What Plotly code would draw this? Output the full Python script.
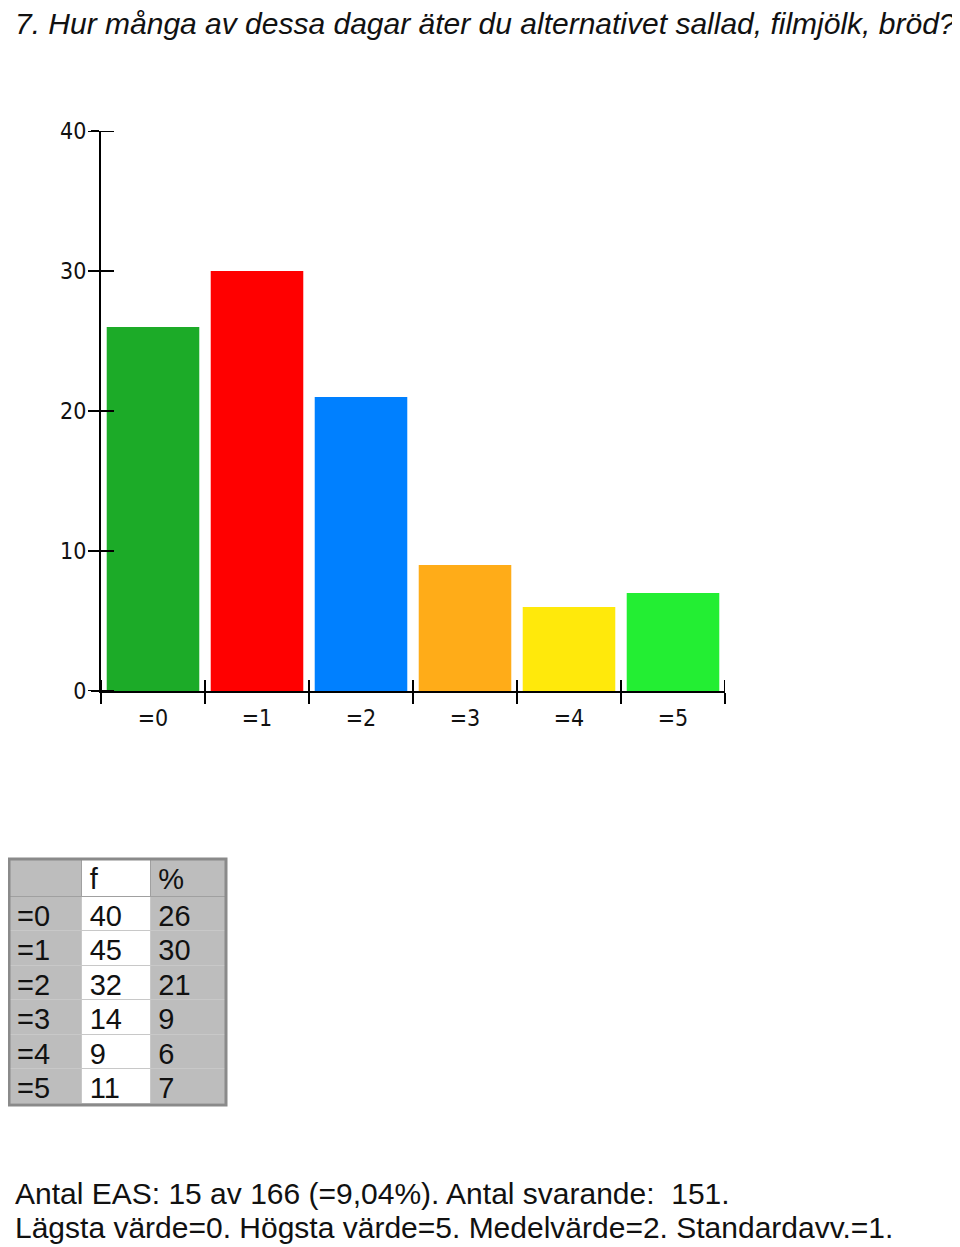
import plotly.graph_objects as go

# ---- data ----
categories = ["=0", "=1", "=2", "=3", "=4", "=5"]
freq = [40, 45, 32, 14, 9, 11]
percent = [26, 30, 21, 9, 6, 7]
bar_colors = ["#1cab28", "#ff0000", "#0080ff", "#ffac18", "#ffe90b", "#23ee33"]
y_ticks = [0, 10, 20, 30, 40]
title_text = "7. Hur många av dessa dagar äter du alternativet sallad, filmjölk, bröd?"
footer_lines = [
    "Antal EAS: 15 av 166 (=9,04%). Antal svarande:  151.",
    "Lägsta värde=0. Högsta värde=5. Medelvärde=2. Standardavv.=1.",
]
table_header = ["", "f", "%"]

OFF = 8  # the html page's default body margin
W, H = 960 - OFF, 1247 - OFF


def px(x):
    return max(0.0, (x - OFF) / W)


def py(y):
    return min(1.0, 1 - (y - OFF) / H)


fig = go.Figure()
fig.add_trace(go.Bar(
    x=categories, y=percent, marker=dict(color=bar_colors, line=dict(width=0)),
    width=0.89, xaxis="x", yaxis="y", showlegend=False, hoverinfo="skip",
))

tick_font = dict(family="Liberation Sans Narrow, DejaVu Sans Condensed, sans-serif", size=23, color="#111")
txt_font = dict(family="Liberation Sans, Arial", size=29, color="#111")

# table
grey = "#bdbdbd"
tx0, tx1 = 9, 226
fig.add_trace(go.Table(
    domain=dict(x=[px(tx0), px(tx1)], y=[py(1105), py(859)]),
    columnwidth=[73, 69, 76],
    header=dict(
        values=table_header,
        fill_color=[grey, "white", grey],
        line=dict(color="#a0a0a0", width=1),
        align="left",
        font=txt_font,
        height=37,
    ),
    cells=dict(
        values=[categories, [str(v) for v in freq], [str(v) for v in percent]],
        fill_color=[grey, "white", grey],
        line=dict(color="#c8c8c8", width=1),
        align="left",
        font=txt_font,
        height=34.5,
    ),
))

shapes = []
for t in y_ticks:
    shapes.append(dict(type="line", xref="paper", yref="y", x0=px(88), x1=px(114), y0=t, y1=t,
                       line=dict(color="black", width=2)))
for i in range(len(categories) + 1):
    shapes.append(dict(type="line", xref="x", yref="paper", x0=i - 0.5, x1=i - 0.5,
                       y0=py(691), y1=py(680), line=dict(color="black", width=2)))
shapes.append(dict(type="rect", xref="paper", yref="paper", x0=px(tx0), x1=px(tx1), y0=py(1105), y1=py(859),
                   line=dict(color="#8a8a8a", width=3)))

annotations = [
    dict(text=title_text, x=px(13), y=1, xref="paper", yref="paper",
         xanchor="left", yanchor="top", yshift=3,
         showarrow=False, font=dict(family="Liberation Sans, Arial", size=30, color="#111", style="italic")),
]
for k, line in enumerate(footer_lines):
    annotations.append(dict(text=line, x=px(13), y=py(1175 + 34 * k), xref="paper", yref="paper",
                            xanchor="left", yanchor="top", showarrow=False,
                            font=dict(family="Liberation Sans, Arial", size=30, color="#111")))

fig.update_layout(
    width=W, height=H, margin=dict(l=0, r=0, t=0, b=0, autoexpand=False),
    paper_bgcolor="white", plot_bgcolor="white",
    xaxis=dict(domain=[px(101), px(725)], range=[-0.5, 5.5], type="category", automargin=False,
               showline=True, linecolor="black", linewidth=2, showgrid=False, zeroline=False,
               ticks="outside", tickson="boundaries", ticklen=11, tickwidth=2, tickcolor="black",
               ticklabelstandoff=5,
               tickfont=tick_font, fixedrange=True),
    yaxis=dict(domain=[py(691), py(131)], range=[0, 40], tickvals=y_ticks, automargin=False,
               showline=True, linecolor="black", linewidth=2, showgrid=False, zeroline=False,
               ticks="outside", ticklen=8, tickwidth=2, tickcolor="black",
               tickfont=tick_font, fixedrange=True),
    shapes=shapes,
    annotations=annotations,
)

fig.write_html("out.html")
